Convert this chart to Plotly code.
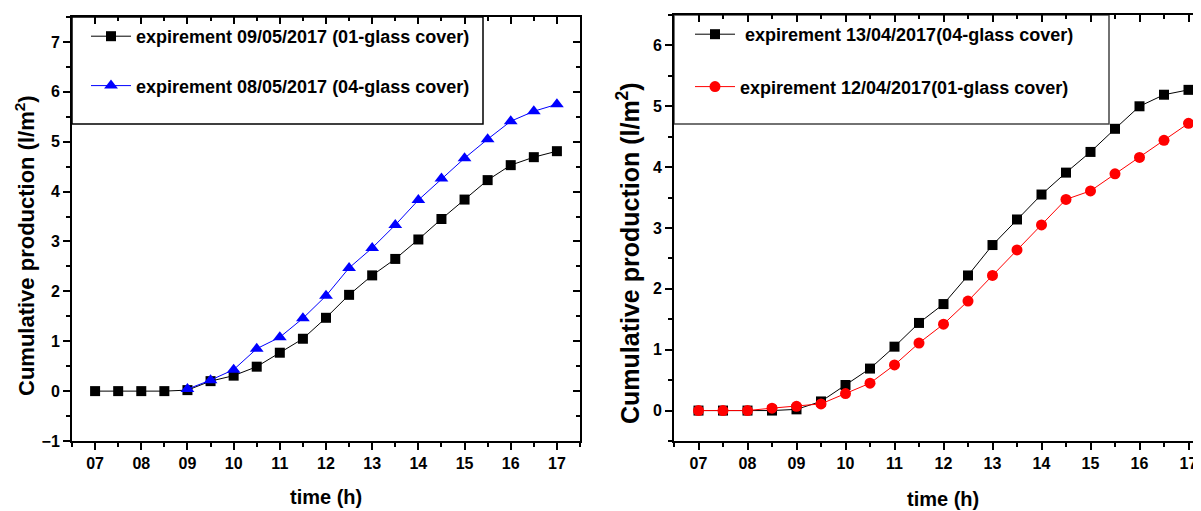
import plotly.graph_objects as go

# ---- data ----
hours = [7, 7.5, 8, 8.5, 9, 9.5, 10, 10.5, 11, 11.5, 12, 12.5, 13, 13.5, 14, 14.5, 15, 15.5, 16, 16.5, 17]
hours_from9 = [9, 9.5, 10, 10.5, 11, 11.5, 12, 12.5, 13, 13.5, 14, 14.5, 15, 15.5, 16, 16.5, 17]

left_black = [0, 0, 0, 0, 0.02, 0.2, 0.31, 0.49, 0.77, 1.05, 1.47, 1.93, 2.32, 2.65, 3.04, 3.45, 3.84, 4.23, 4.53, 4.69, 4.81]
left_blue = [0.04, 0.22, 0.43, 0.85, 1.08, 1.46, 1.91, 2.47, 2.87, 3.33, 3.83, 4.26, 4.67, 5.05, 5.41, 5.61, 5.75]

right_black = [0, 0, 0, 0, 0.02, 0.15, 0.42, 0.69, 1.05, 1.44, 1.75, 2.22, 2.72, 3.14, 3.55, 3.91, 4.25, 4.63, 5.0, 5.19, 5.27]
right_red = [0, 0, 0, 0.04, 0.07, 0.11, 0.28, 0.45, 0.75, 1.11, 1.42, 1.80, 2.22, 2.64, 3.05, 3.47, 3.61, 3.89, 4.16, 4.44, 4.72]

name_lb = "expirement 09/05/2017 (01-glass cover)"
name_lu = "expirement 08/05/2017 (04-glass cover)"
name_rb = " expirement 13/04/2017(04-glass cover)"
name_rr = "expirement 12/04/2017(01-glass cover)"

FONT = "Liberation Sans, Arial, sans-serif"

fig = go.Figure()

fig.add_trace(go.Scatter(x=hours, y=left_black, mode="lines+markers", name=name_lb,
                         line=dict(color="black", width=1),
                         marker=dict(symbol="square", size=10, color="black"),
                         xaxis="x", yaxis="y", legend="legend", legendgroup="a"))
fig.add_trace(go.Scatter(x=hours_from9, y=left_blue, mode="lines+markers", name=name_lu,
                         line=dict(color="#0000FF", width=1),
                         marker=dict(symbol="triangle-up", size=12, color="#0000FF"),
                         xaxis="x", yaxis="y", legend="legend", legendgroup="b"))
fig.add_trace(go.Scatter(x=hours, y=right_black, mode="lines+markers", name=name_rb,
                         line=dict(color="black", width=1),
                         marker=dict(symbol="square", size=10, color="black"),
                         xaxis="x2", yaxis="y2", legend="legend2", legendgroup="c"))
fig.add_trace(go.Scatter(x=hours, y=right_red, mode="lines+markers", name=name_rr,
                         line=dict(color="#FF0000", width=1),
                         marker=dict(symbol="circle", size=11, color="#FF0000"),
                         xaxis="x2", yaxis="y2", legend="legend2", legendgroup="d"))

# dummy traces to activate mirror axes with inside ticks
for xa, ya in [("x3", "y"), ("x", "y3"), ("x4", "y2")]:
    fig.add_trace(go.Scatter(x=[], y=[], xaxis=xa, yaxis=ya, showlegend=False, hoverinfo="skip"))

# page body has an 8px margin: the figure is drawn from screen (8, 8)
OFF = 8
W, H = 1201 - OFF, 511 - OFF
ML, MR = 72 - OFF, 0
MT = 15 - OFF
MB = H - (441 - OFF)
PW = W - ML - MR
PH = H - MT - MB

def px_x(p):  # screen px -> paper
    return (p - OFF - ML) / PW

def px_y(p):
    return (H - MB - (p - OFF)) / PH

tickfont = dict(family=FONT, size=16, color="black", weight="bold")

def xax(rng, domain, **kw):
    d = dict(domain=domain, range=rng, tick0=7, dtick=1, tickformat="02d",
             ticks="outside", ticklen=7, tickwidth=2, tickcolor="black",
             showline=True, linewidth=2, linecolor="black", showgrid=False, zeroline=False,
             tickfont=tickfont,
             minor=dict(dtick=0.5, tick0=7, ticks="outside", ticklen=4, tickwidth=1.5, tickcolor="black", showgrid=False))
    d.update(kw)
    return d

def yax(rng, domain, **kw):
    d = dict(domain=domain, range=rng, tick0=0, dtick=1,
             ticks="outside", ticklen=7, tickwidth=2, tickcolor="black",
             showline=True, linewidth=2, linecolor="black", showgrid=False, zeroline=False,
             tickfont=tickfont,
             minor=dict(dtick=0.5, tick0=0, ticks="outside", ticklen=4, tickwidth=1.5, tickcolor="black", showgrid=False))
    d.update(kw)
    return d

xd1 = [0, px_x(580)]
yd1 = [0, px_y(17)]
xd2 = [px_x(674), 1]
yd2 = [0, 1]
xr1 = [6.5, 17.5]
yr1 = [-1, 7.5]
xr2 = [6.5, 17.5 - (1213 - 1201) / 49.0]
yr2 = [-0.5, 6.5]

inside_minor_x = dict(dtick=0.5, tick0=7, ticks="inside", ticklen=4, tickwidth=1.5, tickcolor="black")
inside_minor_y = dict(dtick=0.5, tick0=0, ticks="inside", ticklen=4, tickwidth=1.5, tickcolor="black")

layout = dict(
    width=W, height=H,
    margin=dict(l=ML, r=MR, t=MT, b=MB),
    paper_bgcolor="white", plot_bgcolor="white",
    font=dict(family=FONT, color="black"),
    xaxis=xax(xr1, xd1, anchor="y"),
    yaxis=yax(yr1, yd1, anchor="x"),
    xaxis2=xax(xr2, xd2, anchor="y2"),
    yaxis2=yax(yr2, yd2, anchor="x2"),
    xaxis3=xax(xr1, xd1, anchor="y", overlaying="x", side="top", ticks="inside", showticklabels=False,
               minor=inside_minor_x),
    yaxis3=yax(yr1, yd1, anchor="x", overlaying="y", side="right", ticks="inside", showticklabels=False,
               minor=inside_minor_y),
    xaxis4=xax(xr2, xd2, anchor="y2", overlaying="x2", side="top", ticks="inside", showticklabels=False,
               minor=inside_minor_x),
    legend=dict(x=px_x(86), y=px_y(18), xanchor="left", yanchor="top", bgcolor="rgba(0,0,0,0)",
                borderwidth=0, tracegroupgap=23, itemwidth=40,
                font=dict(family=FONT, size=18, color="black", weight="bold")),
    legend2=dict(x=px_x(690), y=px_y(16), xanchor="left", yanchor="top", bgcolor="rgba(0,0,0,0)",
                 borderwidth=0, tracegroupgap=26, itemwidth=40,
                 font=dict(family=FONT, size=18, color="black", weight="bold")),
    shapes=[
        dict(type="rect", xref="x domain", yref="y domain", x0=0, x1=(483 - 72) / (580 - 72),
             y0=(441 - 124) / (441 - 17), y1=1, line=dict(color="black", width=1.5),
             fillcolor="white", layer="below"),
        dict(type="rect", xref="x2 domain", yref="y2 domain", x0=0, x1=(1109 - 674) / (1201 - 674),
             y0=(441 - 124) / (441 - 15), y1=1, line=dict(color="#444444", width=1.5),
             fillcolor="white", layer="below"),
    ],
    annotations=[
        dict(text="<b>time (h)</b>", xref="paper", yref="paper", x=px_x(326), y=px_y(497),
             showarrow=False, font=dict(family=FONT, size=20, color="black"), xanchor="center", yanchor="middle"),
        dict(text="<b>time (h)</b>", xref="paper", yref="paper", x=px_x(943), y=px_y(499),
             showarrow=False, font=dict(family=FONT, size=20, color="black"), xanchor="center", yanchor="middle"),
        dict(text="<b>Cumulative production (l/m<sup>2</sup>)</b>", xref="paper", yref="paper",
             x=px_x(25), y=px_y(246), textangle=-90,
             showarrow=False, font=dict(family=FONT, size=22, color="black"), xanchor="center", yanchor="middle"),
        dict(text="<b>Cumulative production (l/m<sup>2</sup>)</b>", xref="paper", yref="paper",
             x=px_x(628), y=px_y(253), textangle=-90,
             showarrow=False, font=dict(family=FONT, size=25, color="black"), xanchor="center", yanchor="middle"),
    ],
)
fig.update_layout(**layout)
fig.write_html("out.html")
